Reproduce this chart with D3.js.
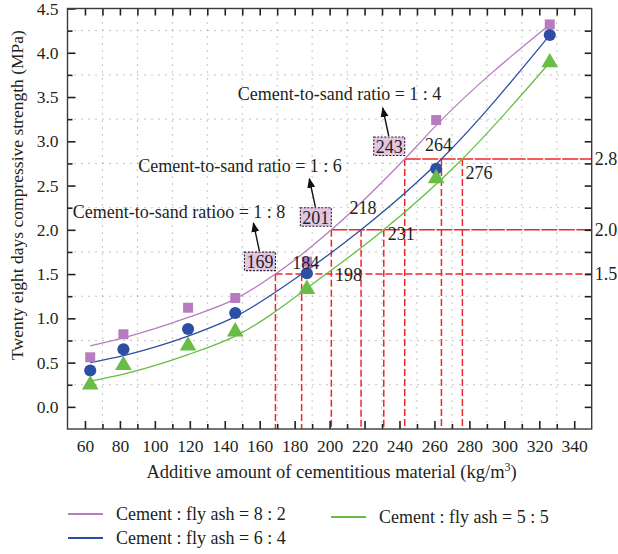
<!DOCTYPE html>
<html>
<head>
<meta charset="utf-8">
<script src="https://cdn.jsdelivr.net/npm/d3@7/dist/d3.min.js"></script>
<style>
  body { margin: 0; background: #fff; }
  svg { display: block; }
  svg text { font-family: "Liberation Serif", "Tinos", "DejaVu Serif", serif !important; fill: #231f20; }
</style>
</head>
<body>
<div id="chart"></div>
<script>
// measured points
const amounts    = [63, 82, 119, 146, 187, 261, 326];
const strength82 = [0.56, 0.82, 1.12, 1.23, 1.64, 3.24, 4.32];
const strength64 = [0.41, 0.65, 0.88, 1.06, 1.51, 2.69, 4.20];
const strength55 = [0.25, 0.47, 0.69, 0.85, 1.33, 2.58, 3.89];

// fitted curves
const fit82 = [[63, 0.69], [82, 0.78], [119, 1.01], [146, 1.22], [169, 1.5], [201, 2.0], [243, 2.8], [261, 3.18], [326, 4.32]];
const fit64 = [[63, 0.50], [82, 0.58], [119, 0.80], [146, 1.02], [184, 1.5], [218, 2.0], [264, 2.8], [326, 4.20]];
const fit55 = [[63, 0.29], [82, 0.37], [119, 0.59], [146, 0.80], [198, 1.5], [231, 2.0], [276, 2.8], [326, 3.89]];

const seriesNames = ['Cement : fly ash = 8 : 2', 'Cement : fly ash = 6 : 4', 'Cement : fly ash = 5 : 5'];
const xTicks = d3.range(60, 341, 20);
const yTicks = d3.range(0, 4.51, 0.5);

// target strengths and the amounts where each curve reaches them
const levels    = [1.5, 2.0, 2.8];
const crossings = [[169, 184, 198], [201, 218, 231], [243, 264, 276]];
const ratioText = ['Cement-to-sand ratioo = 1 : 8', 'Cement-to-sand ratio = 1 : 6', 'Cement-to-sand ratio = 1 : 4'];

const COL = ['#b77cc0', '#2d4fa3', '#67bd45'];
const RED = '#f0262b';

const W = 618, H = 554;
const m = { l: 67.5, r: 26.3, t: 8.5, b: 125 };
const svg = d3.select('#chart').append('svg').attr('width', W).attr('height', H);

const x = d3.scaleLinear().domain([50, 350]).range([m.l, W - m.r]);
const y = d3.scaleLinear().domain([-0.25, 4.5]).range([H - m.b, m.t]);
const x0 = x.range()[0], x1 = x.range()[1], y0 = y.range()[0], y1 = y.range()[1];

// dotted grid on the minor ticks
const gx = d3.range(70, 350, 20), gy = d3.range(0.25, 4.5, 0.5);
svg.append('g').selectAll('line').data(gx).join('line')
  .attr('x1', d => x(d)).attr('x2', d => x(d)).attr('y1', y1).attr('y2', y0)
  .attr('stroke', '#8a8a8a').attr('stroke-width', 1).attr('stroke-dasharray', '1,6');
svg.append('g').selectAll('line').data(gy).join('line')
  .attr('x1', x0).attr('x2', x1).attr('y1', d => y(d)).attr('y2', d => y(d))
  .attr('stroke', '#8a8a8a').attr('stroke-width', 1).attr('stroke-dasharray', '1,6');

// red guide lines
const red = svg.append('g').attr('stroke', RED).attr('stroke-width', 1.5).attr('fill', 'none');
levels.forEach((lv, i) => {
  red.append('line').attr('x1', x(crossings[i][0])).attr('x2', x1)
    .attr('y1', y(lv)).attr('y2', y(lv)).attr('stroke-dasharray', i === 0 ? '7,3' : '16,1.5');
  const drops = i === 0 ? crossings[i].slice(0, 2) : crossings[i];
  drops.forEach(v => {
    red.append('line').attr('x1', x(v)).attr('x2', x(v)).attr('y1', y(lv)).attr('y2', y0)
      .attr('stroke-dasharray', '7,3');
  });
});

// fitted curves
const line = d3.line().x(d => x(d[0])).y(d => y(d[1])).curve(d3.curveMonotoneX);
[fit82, fit64, fit55].forEach((f, i) => {
  svg.append('path').datum(f).attr('d', line).attr('fill', 'none')
    .attr('stroke', COL[i]).attr('stroke-width', 1.3);
});

// markers
const sym = [d3.symbolSquare, d3.symbolCircle, d3.symbolTriangle];
const size = [100, 115, 120];
[strength82, strength64, strength55].forEach((s, i) => {
  svg.append('g').selectAll('path').data(s).join('path')
    .attr('transform', (d, j) => `translate(${x(amounts[j])},${y(d)})`)
    .attr('d', d3.symbol().type(sym[i]).size(size[i])).attr('fill', COL[i]);
});

// crossing labels
const fs = 18;
svg.append('defs').append('marker').attr('id', 'ah').attr('viewBox', '0 0 10 10')
  .attr('refX', 9).attr('refY', 5).attr('markerWidth', 10).attr('markerHeight', 10)
  .attr('markerUnits', 'userSpaceOnUse').attr('orient', 'auto')
  .append('path').attr('d', 'M0,1 L10,5 L0,9 Z').attr('fill', '#111');

const ratioPos = [[53, 2.21], [90.5, 2.72], [147.4, 3.54]];
levels.forEach((lv, i) => {
  const v = crossings[i][0];
  const bx = x(v) - 31, by = y(lv) - 22;
  svg.append('rect').attr('x', bx).attr('y', by).attr('width', 31).attr('height', 18.5)
    .attr('fill', '#e4c6e2').attr('stroke', '#222').attr('stroke-width', 1.1).attr('stroke-dasharray', '2,1.5');
  svg.append('text').attr('x', bx + 15.5).attr('y', by + 9.5).attr('dy', '0.35em')
    .attr('text-anchor', 'middle').attr('font-size', fs).text(v);
  svg.append('line').attr('x1', bx + 15).attr('y1', by - 1).attr('x2', bx + 9).attr('y2', by - 29)
    .attr('stroke', '#111').attr('stroke-width', 1.4).attr('marker-end', 'url(#ah)');
  svg.append('text').attr('x', x(ratioPos[i][0])).attr('y', y(ratioPos[i][1])).attr('dy', '0.35em')
    .attr('font-size', fs).text(ratioText[i]);
});

// plain crossing numbers: [dx, dy, anchor] next to each drop line
const place = [
  [null, [4, -11, 'middle'], [9, 1, 'start']],
  [null, [2, -22, 'middle'], [4, 4, 'start']],
  [null, [-3, -14.5, 'middle'], [3, 14, 'start']]
];
levels.forEach((lv, i) => {
  crossings[i].forEach((v, j) => {
    if (!place[i][j]) return;
    const [dx, dy, an] = place[i][j];
    svg.append('text').attr('x', x(v) + dx).attr('y', y(lv) + dy).attr('dy', '0.35em')
      .attr('text-anchor', an).attr('font-size', fs).text(v);
  });
});

// axes and frame
const tf = d3.format('.1f');
const ax = svg.append('g');
const styleAxis = g => {
  g.attr('font-family', null).attr('font-size', null);
  g.select('.domain').remove();
  g.selectAll('.tick line').attr('stroke', '#231f20').attr('stroke-width', 1.6);
  g.selectAll('text').attr('fill', '#231f20').attr('font-size', 17.5);
};
ax.append('g').attr('transform', `translate(0,${y0})`)
  .call(d3.axisBottom(x).tickValues(xTicks).tickSize(-8).tickPadding(11)).call(styleAxis);
ax.append('g').attr('transform', `translate(0,${y0})`)
  .call(d3.axisBottom(x).tickValues(gx).tickSize(-5).tickFormat('')).call(styleAxis);
ax.append('g').attr('transform', `translate(0,${y1})`)
  .call(d3.axisTop(x).tickValues(d3.range(60, 350, 10)).tickSize(-7).tickFormat('')).call(styleAxis);
ax.append('g').attr('transform', `translate(${x0},0)`)
  .call(d3.axisLeft(y).tickValues(yTicks).tickSize(-8).tickPadding(9).tickFormat(tf)).call(styleAxis);
ax.append('g').attr('transform', `translate(${x0},0)`)
  .call(d3.axisLeft(y).tickValues(gy).tickSize(-5).tickFormat('')).call(styleAxis);
ax.append('g').attr('transform', `translate(${x1},0)`)
  .call(d3.axisRight(y).tickValues(d3.range(0, 4.5, 0.25)).tickSize(-7).tickFormat('')).call(styleAxis);

svg.append('rect').attr('x', x0).attr('y', y1).attr('width', x1 - x0).attr('height', y0 - y1)
  .attr('fill', 'none').attr('stroke', '#3a3a3a').attr('stroke-width', 1.4);

// right-hand level labels
svg.append('g').selectAll('text').data(levels).join('text')
  .attr('x', x1 + 3).attr('y', d => y(d)).attr('dy', '0.35em')
  .attr('font-size', 18).text(tf);

// axis titles
const xt = svg.append('text').attr('x', (x0 + x1) / 2 + 2).attr('y', 472).attr('dy', '0.35em')
  .attr('text-anchor', 'middle').attr('font-size', 18.5);
xt.append('tspan').text('Additive amount of cementitious material (kg/m');
xt.append('tspan').attr('font-size', 12).attr('dy', '-7').text('3');
xt.append('tspan').attr('dy', '7').text(')');

svg.append('text').attr('transform', `translate(17,195) rotate(-90)`)
  .attr('dy', '0.35em').attr('text-anchor', 'middle').attr('font-size', 17.5)
  .text('Twenty eight days compressive strength (MPa)');

// legend
const legPos = [[68, 514], [68, 538], [331, 517]];
seriesNames.forEach((n, i) => {
  const [lx, ly] = legPos[i];
  svg.append('line').attr('x1', lx).attr('x2', lx + 35).attr('y1', ly).attr('y2', ly)
    .attr('stroke', COL[i]).attr('stroke-width', 2);
  svg.append('text').attr('x', lx + 48).attr('y', ly).attr('dy', '0.35em')
    .attr('font-size', 18).text(n);
});
</script>
</body>
</html>
